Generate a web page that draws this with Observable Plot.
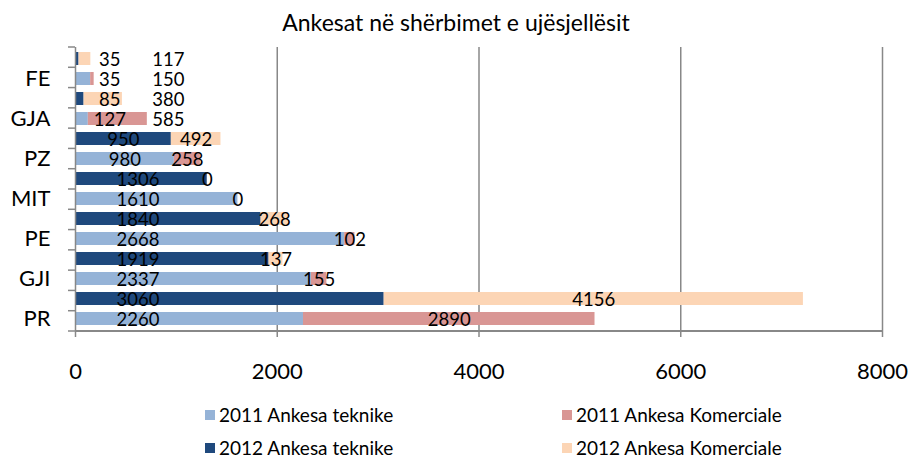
<!DOCTYPE html>
<html>
<head>
<meta charset="utf-8">
<script src="https://cdn.jsdelivr.net/npm/d3@7"></script>
<script src="https://cdn.jsdelivr.net/npm/@observablehq/plot@0.6"></script>
<style>
  html, body { margin: 0; padding: 0; background: #fff; }
  #wrap { position: relative; width: 912px; height: 459px; font-family: Lato, "Open Sans", sans-serif; color: #000; overflow: hidden; }
  #title { position: absolute; left: 0; top: 0; width: 912px; height: 44px; line-height: 44px; text-align: center; font-size: 23px; }
  #chart { position: absolute; left: 0; top: 40px; }
  .leg { position: absolute; display: flex; align-items: center; font-size: 19px; line-height: 18px; height: 18px; white-space: nowrap; }
  .leg span.sw { display: inline-block; width: 10px; height: 10px; margin-right: 4px; }
</style>
</head>
<body>
<div id="wrap">
  <div id="title">Ankesat në shërbimet e ujësjellësit</div>
  <div id="chart"></div>
</div>
<script>
// ---- data ----
const categories = ["PR", "GJI", "PE", "MIT", "PZ", "GJA", "FE"];
const teknike2011 = [2260, 2337, 2668, 1610, 980, 127, 150];
const komerciale2011 = [2890, 155, 102, 0, 258, 585, 35];
const teknike2012 = [3060, 1919, 1840, 1306, 950, 85, 35];
const komerciale2012 = [4156, 137, 268, 0, 492, 380, 117];
const seriesNames = ["2011 Ankesa teknike", "2011 Ankesa Komerciale", "2012 Ankesa teknike", "2012 Ankesa Komerciale"];
const seriesColors = ["#95B3D7", "#D99694", "#1F497D", "#FCD5B5"];
const xTicks = [0, 2000, 4000, 6000, 8000];
const gridTicks = [2000, 4000, 6000, 8000];

// ---- build rows ----
const rowKey = (c, y) => c + "|" + y;
const rowOrder = categories.slice().reverse().flatMap(c => [rowKey(c, "2012"), rowKey(c, "2011")]);

const segments = [];
const labels = [];
categories.forEach((c, i) => {
  [["2011", teknike2011[i], komerciale2011[i], 0], ["2012", teknike2012[i], komerciale2012[i], 2]].forEach(([yr, t, k, s]) => {
    const row = rowKey(c, yr);
    segments.push({row, series: seriesNames[s], value: t});
    segments.push({row, series: seriesNames[s + 1], value: k});
    const total = t + k;
    if (total < 900) {
      // small rows: labels spread out, smaller value first
      const pair = [t, k].sort((a, b) => a - b);
      labels.push({row, x: 340, text: String(pair[0])});
      labels.push({row, x: 920, text: String(pair[1])});
    } else {
      labels.push({row, x: Math.min(t / 2, 620), text: String(t)});
      labels.push({row, x: t + k / 2, text: String(k)});
    }
  });
});

const height = 360;
const chart = Plot.plot({
  width: 912,
  height,
  marginTop: 7,
  marginBottom: 69,
  marginLeft: 75,
  marginRight: 30,
  style: {fontFamily: "Lato, 'Open Sans', sans-serif", fontSize: "18px", background: "transparent", color: "#000"},
  x: {domain: [0, 8000]},
  y: {type: "band", domain: rowOrder, paddingInner: 0.33, paddingOuter: 0.165},
  color: {domain: seriesNames, range: seriesColors},
  marks: [
    Plot.ruleX(gridTicks, {stroke: "#888", strokeWidth: 1.5}),
    Plot.barX(segments, {x: "value", y: "row", fill: "series"}),
    Plot.ruleX([0], {stroke: "#888", strokeWidth: 1.5}),
    Plot.text(labels, {x: "x", y: "row", text: "text", fill: "#000", fontSize: 18.5, dy: 1}),
    Plot.axisX({ticks: xTicks, tickFormat: d => String(d), tickSize: 6, tickPadding: 26, fontSize: 22, stroke: "#888", strokeWidth: 1.5, fill: "#000", strokeOpacity: 1, label: null}),
    Plot.axisY({tickSize: 0, tickPadding: 25, fontSize: 22, fill: "#000", label: null,
      tickFormat: d => d.endsWith("2011") ? d.split("|")[0] : ""})
  ]
});

// axis line at bottom and category tick marks at band boundaries
const sx = chart.scale("x"), sy = chart.scale("y");
const svg = d3.select(chart);
const [y0, y1] = sy.range;
const xa = sx.apply(0), xb = sx.apply(8000);
svg.append("line").attr("x1", xa).attr("x2", xb).attr("y1", y1).attr("y2", y1)
  .attr("stroke", "#888").attr("stroke-width", 2);
const n = sy.domain.length;
for (let k = 0; k <= n; k++) {
  const yy = y0 + k * (y1 - y0) / n;
  svg.append("line").attr("x1", xa - 7).attr("x2", xa).attr("y1", yy).attr("y2", yy)
    .attr("stroke", "#888").attr("stroke-width", 1.5);
}
document.getElementById("chart").appendChild(chart);

// legend
const legPos = [[205, 415], [562, 415], [205, 448], [562, 448]];
const wrap = document.getElementById("wrap");
seriesNames.forEach((s, i) => {
  const d = document.createElement("div");
  d.className = "leg";
  d.style.left = legPos[i][0] + "px";
  d.style.top = (legPos[i][1] - 9) + "px";
  d.innerHTML = `<span class="sw" style="background:${seriesColors[i]}"></span><span>${s}</span>`;
  wrap.appendChild(d);
});
</script>
</body>
</html>
